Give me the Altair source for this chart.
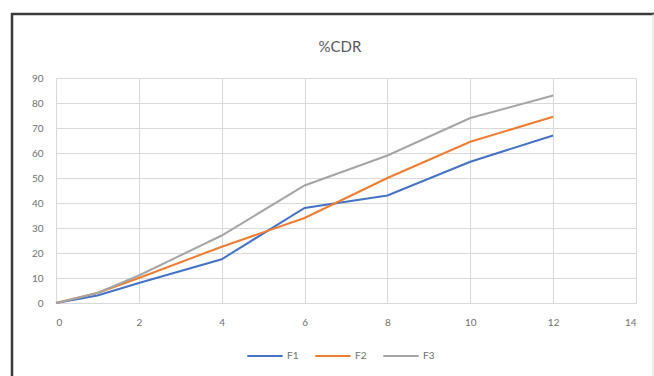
import altair as alt
import pandas as pd

x_vals = [0, 1, 2, 4, 6, 8, 10, 12]
f1 = [0, 3, 8, 17.5, 38, 43, 56.5, 67]
f2 = [0, 4, 10, 22.5, 34, 50, 64.5, 74.5]
f3 = [0, 4, 11, 27, 47, 59, 74, 83]
series = ["F1", "F2", "F3"]
colors = ["#4472C4", "#ED7D31", "#A5A5A5"]
title_text = "%CDR"

rows = []
for name, vals in zip(series, [f1, f2, f3]):
    for xv, yv in zip(x_vals, vals):
        rows.append({"x": xv, "y": yv, "series": name})
df = pd.DataFrame(rows)

FONT = "Lato"
LABEL = "#6f6f6f"

lines = alt.Chart(df).mark_line(strokeWidth=2).encode(
    x=alt.X("x:Q", scale=alt.Scale(domain=[0, 14], nice=False),
            axis=alt.Axis(values=list(range(0, 15, 2)), title=None, ticks=False,
                          domain=False, labelPadding=14, grid=True)),
    y=alt.Y("y:Q", scale=alt.Scale(domain=[0, 90], nice=False),
            axis=alt.Axis(values=list(range(0, 91, 10)), title=None, ticks=False,
                          domain=False, labelPadding=13, grid=True)),
    color=alt.Color("series:N", scale=alt.Scale(domain=series, range=colors),
                    legend=alt.Legend(title=None, orient="none", legendX=190, legendY=259,
                                      direction="horizontal", symbolType="stroke",
                                      symbolSize=1250, symbolStrokeWidth=2,
                                      labelFontSize=10, labelColor=LABEL, labelFont=FONT,
                                      columnPadding=12, labelOffset=3)),
)

frame_df = pd.DataFrame({"a": [0]})
top_border = alt.Chart(frame_df).mark_rule(color="#3a3a3a", strokeWidth=2.5).encode(
    x=alt.value(-45), x2=alt.value(600), y=alt.value(-64))
left_border = alt.Chart(frame_df).mark_rule(color="#3a3a3a", strokeWidth=2.5).encode(
    x=alt.value(-44), y=alt.value(-65), y2=alt.value(310))
right_border = alt.Chart(frame_df).mark_rule(color="#e0e0e0", strokeWidth=1).encode(
    x=alt.value(597), y=alt.value(-64), y2=alt.value(310))
title = alt.Chart(frame_df).mark_text(
    fontSize=15, font=FONT, color="#595959", align="center", baseline="middle"
).encode(x=alt.value(284), y=alt.value(-31), text=alt.value(title_text))

chart = alt.layer(top_border, left_border, right_border, title, lines).properties(
    width=580, height=225,
    autosize=alt.AutoSizeParams(type="none"),
    padding={"left": 56, "top": 78, "right": 18, "bottom": 73},
    background="white",
).configure_view(stroke=None).configure_axis(
    gridColor="#d9d9d9", gridWidth=1, labelFontSize=10, labelColor=LABEL, labelFont=FONT
)

chart.save("out.html", embed_options={"renderer": "svg", "actions": False})
